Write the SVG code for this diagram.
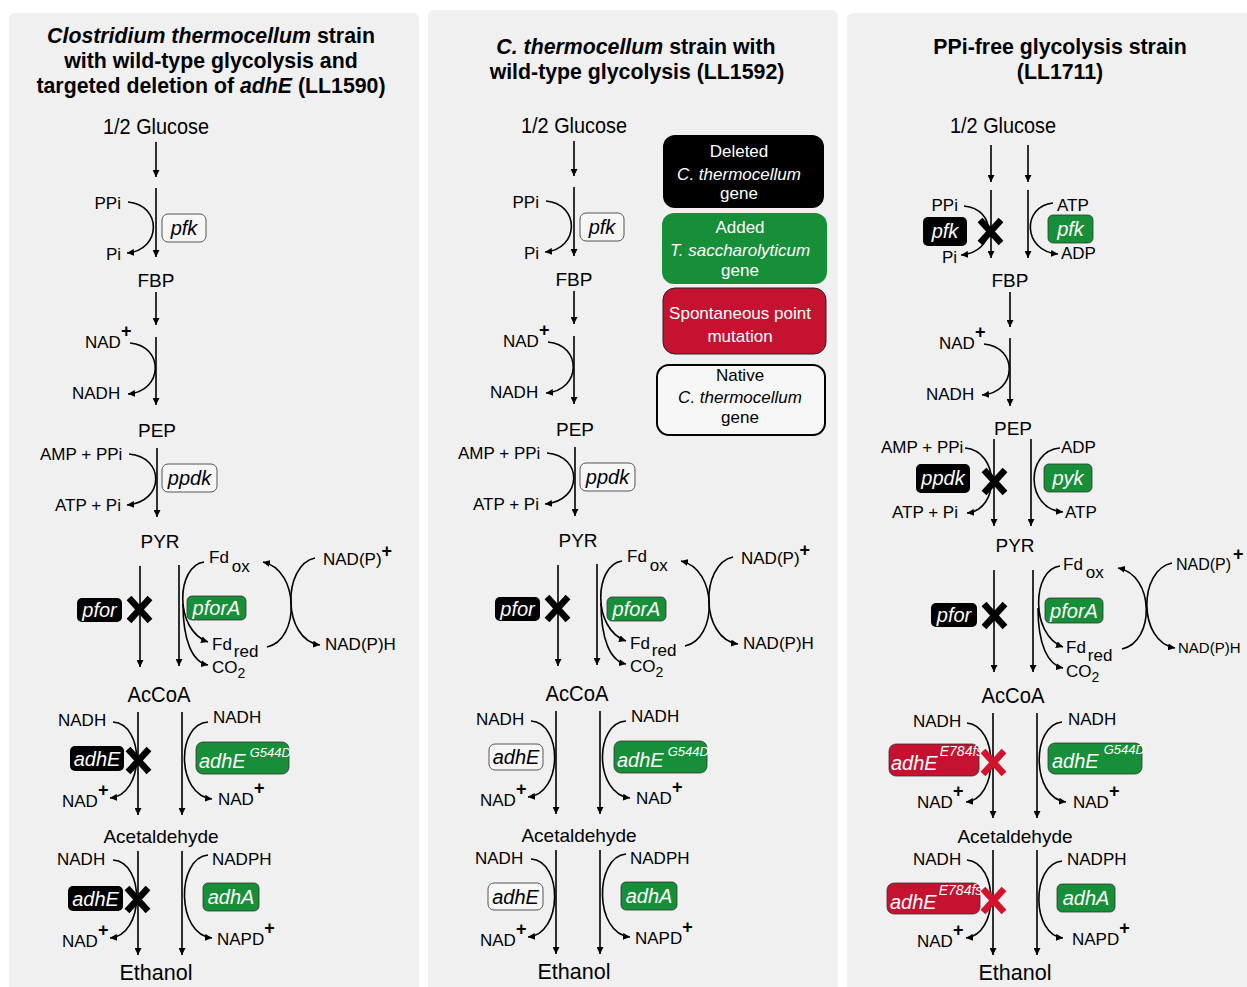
<svg xmlns="http://www.w3.org/2000/svg" width="1247" height="987" viewBox="0 0 1247 987">
<style>
text{font-family:"Liberation Sans",Arial,Helvetica,sans-serif;fill:#000}
.s{font-size:17px}
.m{font-size:19px}
.ttl{font-size:21.3px;font-weight:bold}
.c{text-anchor:middle}
.e{text-anchor:end}
.g{font-size:20px;font-style:italic}
.w{fill:#fff}
.it{font-style:italic}
.bg{fill:#f0f0f0}
.ln{fill:none;stroke:#000;stroke-width:1.6;marker-end:url(#ah)}
.bk{fill:#000}
.gr{fill:#168f38;stroke:#333;stroke-width:0.8}
.rd{fill:#c41230;stroke:#333;stroke-width:0.8}
.wt{fill:#f7f7f7;stroke:#555;stroke-width:1}
.x{stroke:#000;stroke-width:6.5}
.xr{stroke:#d3122c;stroke-width:6.5}
.sup{font-size:18px;font-weight:bold}
.lg{font-size:17px}
</style>
<defs>
<marker id="ah" viewBox="0 0 10 10" refX="10" refY="5" markerWidth="7" markerHeight="7" markerUnits="userSpaceOnUse" orient="auto"><path d="M0 0L10 5L0 10z" fill="#000"/></marker>
</defs>
<rect width="1247" height="987" fill="#fff"/>
<rect id="panel1-bg" class="bg" x="9" y="13" width="410" height="990" rx="6"/>
<rect id="panel2-bg" class="bg" x="428" y="10" width="410" height="990" rx="6"/>
<rect id="panel3-bg" class="bg" x="847" y="13" width="420" height="990" rx="6"/>

<!-- ================= PANEL 1 ================= -->
<g id="p1-title">
<text class="ttl c" x="211" y="43"><tspan font-style="italic">Clostridium thermocellum</tspan> strain</text>
<text class="ttl c" x="211" y="68">with wild-type glycolysis and</text>
<text class="ttl c" x="211" y="93">targeted deletion of <tspan font-style="italic">adhE</tspan> (LL1590)</text>
</g>
<g id="p1-connectors">
<path class="ln" d="M156 142V177"/>
<path class="ln" d="M156 188V257"/>
<path class="ln" d="M128 202C162 205 162 250 127 253"/>
<path class="ln" d="M156 292V325"/>
<path class="ln" d="M156 337V405"/>
<path class="ln" d="M130 343C164 346 164 391 128 394"/>
<path class="ln" d="M157 448V517"/>
<path class="ln" d="M129 454C165 457 165 502 127 505"/>
<path class="ln" d="M140 566V667"/>
<path class="ln" d="M179 565V666"/>
<path class="ln" d="M204 562C176 566 174 630 208 642"/>
<path class="ln" d="M183 604C183 640 192 662 208 665"/>
<path class="ln" d="M267 647C300 640 300 570 263 562"/>
<path class="ln" d="M315 558C282 565 282 640 320 645"/>
<path class="ln" d="M138 712V815"/>
<path class="ln" d="M182 712V815"/>
<path class="ln" d="M113 722C145 724 145 795 110 798"/>
<path class="ln" d="M208 722C176 724 176 795 212 799"/>
<path class="ln" d="M138 851V955"/>
<path class="ln" d="M182 851V955"/>
<path class="ln" d="M113 860C145 862 145 935 110 938"/>
<path class="ln" d="M208 855C176 858 176 935 212 938"/>
</g>
<g id="p1-glucose"><text class="c" font-size="22" x="156" y="134" textLength="106" lengthAdjust="spacingAndGlyphs">1/2 Glucose</text></g>
<g id="p1-pfk-cof"><text class="s e" x="121" y="209">PPi</text><text class="s e" x="121" y="260">Pi</text></g>
<g id="p1-pfk"><rect class="wt" x="162" y="214" width="44" height="28" rx="6"/><text class="g c" x="184" y="235">pfk</text></g>
<g id="p1-fbp"><text class="m c" x="156" y="287">FBP</text></g>
<g id="p1-nad-cof"><text class="s" x="85" y="348">NAD<tspan class="sup" dy="-11">+</tspan></text><text class="s" x="72" y="399">NADH</text></g>
<g id="p1-pep"><text class="m c" x="157" y="437">PEP</text></g>
<g id="p1-ppdk-cof"><text class="s" x="40" y="460">AMP + PPi</text><text class="s" x="55" y="511">ATP + Pi</text></g>
<g id="p1-ppdk"><rect class="wt" x="162" y="464" width="55" height="28" rx="6"/><text class="g c" x="189.5" y="485">ppdk</text></g>
<g id="p1-pyr"><text class="m c" x="160" y="548">PYR</text></g>
<g id="p1-pfor"><rect class="bk" x="77" y="598" width="45" height="24" rx="5"/><text class="g c w" x="99.5" y="617">pfor</text></g>
<g id="p1-pfor-x"><path class="x" d="M129 598L150 621M150 598L129 621"/></g>
<g id="p1-pforA"><rect class="gr" x="187" y="596" width="59" height="24" rx="5"/><text class="g c w" x="216.5" y="615">pforA</text></g>
<g id="p1-fd"><text class="s" x="209" y="563">Fd<tspan dx="3" dy="9">ox</tspan></text><text class="s" x="212" y="650">Fd<tspan dx="2" dy="7">red</tspan></text><text class="s" x="212" y="673">CO<tspan font-size="14" dy="5">2</tspan></text></g>
<g id="p1-nadp"><text class="s" x="323" y="565">NAD(P)<tspan class="sup" dy="-8">+</tspan></text><text class="s" x="325" y="650">NAD(P)H</text></g>
<g id="p1-accoa"><text class="c" font-size="22" x="159" y="702" textLength="63" lengthAdjust="spacingAndGlyphs">AcCoA</text></g>
<g id="p1-adhE1-cof"><text class="s" x="58" y="726">NADH</text><text class="s" x="62" y="807">NAD<tspan class="sup" dy="-11">+</tspan></text><text class="s" x="213" y="723">NADH</text><text class="s" x="218" y="805">NAD<tspan class="sup" dy="-11">+</tspan></text></g>
<g id="p1-adhE1"><rect class="bk" x="70" y="746" width="54" height="25" rx="5"/><text class="g c w" x="97" y="766">adhE</text></g>
<g id="p1-adhE1-x"><path class="x" d="M128 749L149 772M149 749L128 772"/></g>
<g id="p1-adhE-G544D-1"><rect class="gr" x="196" y="742" width="93" height="32" rx="7"/><text class="g w" x="199" y="768">adhE<tspan font-size="13" dx="4" dy="-11">G544D</tspan></text></g>
<g id="p1-acetaldehyde"><text class="m c" x="161" y="843">Acetaldehyde</text></g>
<g id="p1-adh2-cof"><text class="s" x="57" y="865">NADH</text><text class="s" x="62" y="947">NAD<tspan class="sup" dy="-11">+</tspan></text><text class="s" x="212" y="865">NADPH</text><text class="s" x="217" y="945">NAPD<tspan class="sup" dy="-11">+</tspan></text></g>
<g id="p1-adhE2"><rect class="bk" x="68" y="886" width="55" height="25" rx="5"/><text class="g c w" x="95.5" y="906">adhE</text></g>
<g id="p1-adhE2-x"><path class="x" d="M127 888L148 911M148 888L127 911"/></g>
<g id="p1-adhA"><rect class="gr" x="203" y="883" width="56" height="28" rx="5"/><text class="g c w" x="231" y="904">adhA</text></g>
<g id="p1-ethanol"><text class="c" font-size="22" x="156" y="980" textLength="73" lengthAdjust="spacingAndGlyphs">Ethanol</text></g>

<!-- ================= PANEL 2 ================= -->
<g id="p2-title">
<text class="ttl c" x="636" y="54"><tspan font-style="italic">C. thermocellum</tspan> strain with</text>
<text class="ttl c" x="637" y="79">wild-type glycolysis (LL1592)</text>
</g>
<g transform="translate(418,-1)">
<g id="p2-connectors">
<path class="ln" d="M156 142V177"/>
<path class="ln" d="M156 188V257"/>
<path class="ln" d="M128 202C162 205 162 250 127 253"/>
<path class="ln" d="M156 292V325"/>
<path class="ln" d="M156 337V405"/>
<path class="ln" d="M130 343C164 346 164 391 128 394"/>
<path class="ln" d="M157 448V517"/>
<path class="ln" d="M129 454C165 457 165 502 127 505"/>
<path class="ln" d="M140 566V667"/>
<path class="ln" d="M179 565V666"/>
<path class="ln" d="M204 562C176 566 174 630 208 642"/>
<path class="ln" d="M183 604C183 640 192 662 208 665"/>
<path class="ln" d="M267 647C300 640 300 570 263 562"/>
<path class="ln" d="M315 558C282 565 282 640 320 645"/>
<path class="ln" d="M138 712V815"/>
<path class="ln" d="M182 712V815"/>
<path class="ln" d="M113 722C145 724 145 795 110 798"/>
<path class="ln" d="M208 722C176 724 176 795 212 799"/>
<path class="ln" d="M138 851V955"/>
<path class="ln" d="M182 851V955"/>
<path class="ln" d="M113 860C145 862 145 935 110 938"/>
<path class="ln" d="M208 855C176 858 176 935 212 938"/>
</g>
<g id="p2-glucose"><text class="c" font-size="22" x="156" y="134" textLength="106" lengthAdjust="spacingAndGlyphs">1/2 Glucose</text></g>
<g id="p2-pfk-cof"><text class="s e" x="121" y="209">PPi</text><text class="s e" x="121" y="260">Pi</text></g>
<g id="p2-pfk"><rect class="wt" x="162" y="214" width="44" height="28" rx="6"/><text class="g c" x="184" y="235">pfk</text></g>
<g id="p2-fbp"><text class="m c" x="156" y="287">FBP</text></g>
<g id="p2-nad-cof"><text class="s" x="85" y="348">NAD<tspan class="sup" dy="-11">+</tspan></text><text class="s" x="72" y="399">NADH</text></g>
<g id="p2-pep"><text class="m c" x="157" y="437">PEP</text></g>
<g id="p2-ppdk-cof"><text class="s" x="40" y="460">AMP + PPi</text><text class="s" x="55" y="511">ATP + Pi</text></g>
<g id="p2-ppdk"><rect class="wt" x="162" y="464" width="55" height="28" rx="6"/><text class="g c" x="189.5" y="485">ppdk</text></g>
<g id="p2-pyr"><text class="m c" x="160" y="548">PYR</text></g>
<g id="p2-pfor"><rect class="bk" x="77" y="598" width="45" height="24" rx="5"/><text class="g c w" x="99.5" y="617">pfor</text></g>
<g id="p2-pfor-x"><path class="x" d="M129 598L150 621M150 598L129 621"/></g>
<g id="p2-pforA"><rect class="gr" x="189" y="598" width="59" height="24" rx="5"/><text class="g c w" x="218.5" y="617">pforA</text></g>
<g id="p2-fd"><text class="s" x="209" y="563">Fd<tspan dx="3" dy="9">ox</tspan></text><text class="s" x="212" y="650">Fd<tspan dx="2" dy="7">red</tspan></text><text class="s" x="212" y="673">CO<tspan font-size="14" dy="5">2</tspan></text></g>
<g id="p2-nadp"><text class="s" x="323" y="565">NAD(P)<tspan class="sup" dy="-8">+</tspan></text><text class="s" x="325" y="650">NAD(P)H</text></g>
<g id="p2-accoa"><text class="c" font-size="22" x="159" y="702" textLength="63" lengthAdjust="spacingAndGlyphs">AcCoA</text></g>
<g id="p2-adhE1-cof"><text class="s" x="58" y="726">NADH</text><text class="s" x="62" y="807">NAD<tspan class="sup" dy="-11">+</tspan></text><text class="s" x="213" y="723">NADH</text><text class="s" x="218" y="805">NAD<tspan class="sup" dy="-11">+</tspan></text></g>
<g id="p2-adhE1"><rect class="wt" x="71" y="745" width="54" height="26" rx="6"/><text class="g c" x="98" y="765">adhE</text></g>
<g id="p2-adhE-G544D-1"><rect class="gr" x="196" y="742" width="93" height="32" rx="7"/><text class="g w" x="199" y="768">adhE<tspan font-size="13" dx="4" dy="-11">G544D</tspan></text></g>
<g id="p2-acetaldehyde"><text class="m c" x="161" y="843">Acetaldehyde</text></g>
<g id="p2-adh2-cof"><text class="s" x="57" y="865">NADH</text><text class="s" x="62" y="947">NAD<tspan class="sup" dy="-11">+</tspan></text><text class="s" x="212" y="865">NADPH</text><text class="s" x="217" y="945">NAPD<tspan class="sup" dy="-11">+</tspan></text></g>
<g id="p2-adhE2"><rect class="wt" x="70" y="884" width="55" height="27" rx="6"/><text class="g c" x="97.5" y="905">adhE</text></g>
<g id="p2-adhA"><rect class="gr" x="203" y="883" width="56" height="28" rx="5"/><text class="g c w" x="231" y="904">adhA</text></g>
<g id="p2-ethanol"><text class="c" font-size="22" x="156" y="980" textLength="73" lengthAdjust="spacingAndGlyphs">Ethanol</text></g>
</g>

<!-- legend -->
<g id="legend-deleted"><rect x="663" y="135" width="161" height="73" rx="12" fill="#000"/>
<text class="lg c w" x="739" y="157">Deleted</text><text class="lg c w it" x="739" y="180">C. thermocellum</text><text class="lg c w" x="739" y="199">gene</text></g>
<g id="legend-added"><rect x="662" y="213" width="165" height="71" rx="12" fill="#168f38"/>
<text class="lg c w" x="740" y="233">Added</text><text class="lg c w it" x="740" y="256">T. saccharolyticum</text><text class="lg c w" x="740" y="276">gene</text></g>
<g id="legend-spontaneous"><rect x="663" y="288" width="163" height="66" rx="12" fill="#c41230" stroke="#222" stroke-width="1"/>
<text class="lg c w" x="740" y="319">Spontaneous point</text><text class="lg c w" x="740" y="342">mutation</text></g>
<g id="legend-native"><rect x="657" y="365" width="168" height="70" rx="12" fill="#f7f7f7" stroke="#000" stroke-width="2"/>
<text class="lg c" x="740" y="381">Native</text><text class="lg c it" x="740" y="403">C. thermocellum</text><text class="lg c" x="740" y="423">gene</text></g>

<!-- ================= PANEL 3 ================= -->
<g id="p3-title">
<text class="ttl c" x="1060" y="54">PPi-free glycolysis strain</text>
<text class="ttl c" x="1060" y="79">(LL1711)</text>
</g>
<g id="p3-connectors">
<path class="ln" d="M991 145V182"/>
<path class="ln" d="M1028 145V182"/>
<path class="ln" d="M991 190V258"/>
<path class="ln" d="M1028 190V258"/>
<path class="ln" d="M964 206C997 209 997 252 961 255"/>
<path class="ln" d="M1053 203C1022 206 1022 251 1058 254"/>
<path class="ln" d="M1010 292V327"/>
<path class="ln" d="M1010 338V406"/>
<path class="ln" d="M984 344C1018 347 1018 392 982 395"/>
<path class="ln" d="M994 439V526"/>
<path class="ln" d="M1031 439V526"/>
<path class="ln" d="M965 448C1000 451 1000 510 967 513"/>
<path class="ln" d="M1060 448C1025 451 1025 509 1063 512"/>
<path class="ln" d="M994 570V672"/>
<path class="ln" d="M1033 570V672"/>
<path class="ln" d="M1060 566C1032 569 1030 635 1063 647"/>
<path class="ln" d="M1038 608C1038 645 1048 665 1063 668"/>
<path class="ln" d="M1122 649C1155 642 1155 575 1118 568"/>
<path class="ln" d="M1172 563C1138 570 1138 642 1175 648"/>
<path class="ln" d="M993 713V818"/>
<path class="ln" d="M1037 713V818"/>
<path class="ln" d="M967 723C999 726 999 799 966 802"/>
<path class="ln" d="M1062 722C1031 725 1031 798 1066 802"/>
<path class="ln" d="M993 850V955"/>
<path class="ln" d="M1037 850V955"/>
<path class="ln" d="M967 860C999 863 999 935 966 938"/>
<path class="ln" d="M1062 861C1031 864 1031 935 1063 938"/>
</g>
<g id="p3-glucose"><text class="c" font-size="22" x="1003" y="133" textLength="106" lengthAdjust="spacingAndGlyphs">1/2 Glucose</text></g>
<g id="p3-pfk-cof"><text class="s e" x="958" y="211">PPi</text><text class="s e" x="957" y="263">Pi</text><text class="s" x="1057" y="211">ATP</text><text class="s" x="1061" y="259">ADP</text></g>
<g id="p3-pfk-del"><rect class="bk" x="923" y="217" width="44" height="29" rx="5"/><text class="g c w" x="945" y="238">pfk</text></g>
<g id="p3-pfk-x"><path class="x" d="M980 220L1001 243M1001 220L980 243"/></g>
<g id="p3-pfk-add"><rect class="gr" x="1048" y="215" width="45" height="28" rx="5"/><text class="g c w" x="1070.5" y="236">pfk</text></g>
<g id="p3-fbp"><text class="m c" x="1010" y="287">FBP</text></g>
<g id="p3-nad-cof"><text class="s" x="939" y="349">NAD<tspan class="sup" dy="-11">+</tspan></text><text class="s" x="926" y="400">NADH</text></g>
<g id="p3-pep"><text class="m c" x="1013" y="435">PEP</text></g>
<g id="p3-ppdk-cof"><text class="s" x="881" y="453">AMP + PPi</text><text class="s" x="892" y="518">ATP + Pi</text><text class="s" x="1061" y="453">ADP</text><text class="s" x="1065" y="518">ATP</text></g>
<g id="p3-ppdk"><rect class="bk" x="916" y="464" width="54" height="29" rx="5"/><text class="g c w" x="943" y="485">ppdk</text></g>
<g id="p3-ppdk-x"><path class="x" d="M984 470L1005 493M1005 470L984 493"/></g>
<g id="p3-pyk"><rect class="gr" x="1044" y="464" width="48" height="28" rx="5"/><text class="g c w" x="1068" y="485">pyk</text></g>
<g id="p3-pyr"><text class="m c" x="1015" y="552">PYR</text></g>
<g id="p3-pfor"><rect class="bk" x="931" y="603" width="46" height="24" rx="5"/><text class="g c w" x="954" y="622">pfor</text></g>
<g id="p3-pfor-x"><path class="x" d="M984 604L1005 627M1005 604L984 627"/></g>
<g id="p3-pforA"><rect class="gr" x="1045" y="598" width="58" height="25" rx="5"/><text class="g c w" x="1074" y="618">pforA</text></g>
<g id="p3-fd"><text class="s" x="1063" y="570">Fd<tspan dx="3" dy="8">ox</tspan></text><text class="s" x="1066" y="653">Fd<tspan dx="2" dy="8">red</tspan></text><text class="s" x="1066" y="677">CO<tspan font-size="14" dy="5">2</tspan></text></g>
<g id="p3-nadp"><text font-size="16" x="1176" y="570">NAD(P)</text><text class="sup" x="1233" y="560">+</text><text font-size="15" x="1178" y="653">NAD(P)H</text></g>
<g id="p3-accoa"><text class="c" font-size="22" x="1013" y="703" textLength="63" lengthAdjust="spacingAndGlyphs">AcCoA</text></g>
<g id="p3-adhE1-cof"><text class="s" x="913" y="727">NADH</text><text class="s" x="917" y="808">NAD<tspan class="sup" dy="-11">+</tspan></text><text class="s" x="1068" y="725">NADH</text><text class="s" x="1073" y="808">NAD<tspan class="sup" dy="-11">+</tspan></text></g>
<g id="p3-adhE-E784fs-1"><rect class="rd" x="889" y="744" width="90" height="32" rx="7"/><text class="g w" x="891" y="770">adhE<tspan font-size="14" dx="2" dy="-14">E784fs</tspan></text></g>
<g id="p3-adhE1-x"><path class="xr" d="M983 751L1004 774M1004 751L983 774"/></g>
<g id="p3-adhE-G544D-1"><rect class="gr" x="1048" y="743" width="94" height="31" rx="7"/><text class="g w" x="1052" y="768">adhE<tspan font-size="13" dx="5" dy="-14">G544D</tspan></text></g>
<g id="p3-acetaldehyde"><text class="m c" x="1015" y="843">Acetaldehyde</text></g>
<g id="p3-adh2-cof"><text class="s" x="913" y="865">NADH</text><text class="s" x="917" y="947">NAD<tspan class="sup" dy="-11">+</tspan></text><text class="s" x="1067" y="865">NADPH</text><text class="s" x="1072" y="945">NAPD<tspan class="sup" dy="-11">+</tspan></text></g>
<g id="p3-adhE-E784fs-2"><rect class="rd" x="887" y="883" width="93" height="31" rx="7"/><text class="g w" x="890" y="909">adhE<tspan font-size="14" dx="2" dy="-14">E784fs</tspan></text></g>
<g id="p3-adhE2-x"><path class="xr" d="M983 889L1004 912M1004 889L983 912"/></g>
<g id="p3-adhA"><rect class="gr" x="1057" y="884" width="58" height="28" rx="5"/><text class="g c w" x="1086" y="905">adhA</text></g>
<g id="p3-ethanol"><text class="c" font-size="22" x="1015" y="980" textLength="73" lengthAdjust="spacingAndGlyphs">Ethanol</text></g>
</svg>
